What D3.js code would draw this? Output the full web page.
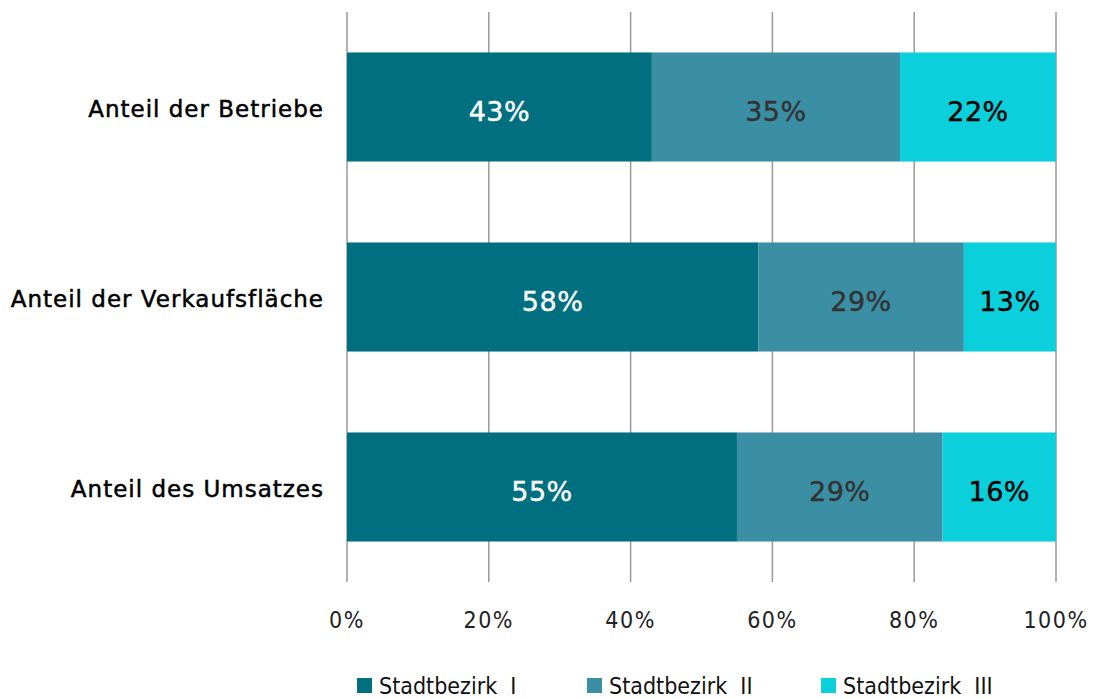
<!DOCTYPE html>
<html><head><meta charset="utf-8">
<script src="https://cdn.jsdelivr.net/npm/d3@7"></script>
<style>body{margin:0;background:#fff}</style>
</head><body>
<svg id="c" width="1099" height="699"></svg>
<script>
const categories = ["Anteil der Betriebe", "Anteil der Verkaufsfläche", "Anteil des Umsatzes"];
const seriesNames = ["Stadtbezirk  I", "Stadtbezirk  II", "Stadtbezirk  III"];
const stadtbezirkI = [43, 58, 55];
const stadtbezirkII = [35, 29, 29];
const stadtbezirkIII = [22, 13, 16];
const tickValues = [0, 20, 40, 60, 80, 100];
const colors = ["#006F80", "#3A8FA5", "#0BCFDA"];
const labelColors = ["#ffffff", "#333333", "#000000"];

const svg = d3.select("#c");
const m = {left: 347, right: 1056, top: 12, bottom: 582};
const x = d3.scaleLinear().domain([0, 100]).range([m.left, m.right]);
const y = d3.scaleBand().domain(categories).range([m.top, m.bottom]).paddingInner(0.426).paddingOuter(0.213);

// gridlines
svg.append("g").selectAll("line").data(tickValues).join("line")
  .attr("x1", d => x(d)).attr("x2", d => x(d))
  .attr("y1", m.top).attr("y2", m.bottom)
  .attr("stroke", "#999").attr("stroke-width", 1.5);

const series = [stadtbezirkI, stadtbezirkII, stadtbezirkIII];
const stackData = categories.map((c, i) => {
  let acc = 0;
  return series.map((s, j) => { const r = {cat: c, j, v: s[i], x0: acc, x1: acc + s[i]}; acc += s[i]; return r; });
}).flat();

svg.append("g").selectAll("rect").data(stackData).join("rect")
  .attr("x", d => x(d.x0)).attr("width", d => x(d.x1) - x(d.x0))
  .attr("y", d => y(d.cat)).attr("height", y.bandwidth())
  .attr("fill", d => colors[d.j]);

svg.append("g").selectAll("text").data(stackData).join("text")
  .attr("x", d => (x(d.x0) + x(d.x1)) / 2)
  .attr("y", d => y(d.cat) + y.bandwidth() / 2 + 14)
  .attr("text-anchor", "middle")
  .attr("font-family", "DejaVu Sans").attr("font-size", 27)
  .attr("letter-spacing", 0.5)
  .attr("fill", d => labelColors[d.j])
  .attr("stroke", d => labelColors[d.j]).attr("stroke-width", 0.4)
  .text(d => d.v + "%");

// category labels
svg.append("g").selectAll("text").data(categories).join("text")
  .attr("x", 324).attr("y", d => y(d) + y.bandwidth() / 2 + 9.5)
  .attr("text-anchor", "end")
  .attr("font-family", "DejaVu Sans").attr("font-size", 23)
  .attr("letter-spacing", 1)
  .attr("fill", "#000").attr("stroke", "#000").attr("stroke-width", 0.5)
  .text(d => d);

// x axis tick labels
svg.append("g").selectAll("text").data(tickValues).join("text")
  .attr("x", d => x(d)).attr("y", 628)
  .attr("text-anchor", "middle")
  .attr("font-family", "DejaVu Sans Condensed").attr("font-size", 23)
  .attr("letter-spacing", 1.5)
  .attr("fill", "#222")
  .text(d => d + "%");

// legend
const legX = [357, 587, 821];
const lg = svg.append("g").selectAll("g").data(seriesNames).join("g")
  .attr("transform", (d, i) => `translate(${legX[i]},0)`);
lg.append("rect").attr("x", 0).attr("y", 678).attr("width", 15).attr("height", 15)
  .attr("fill", (d, i) => colors[i]);
lg.append("text").attr("x", 22).attr("y", 694)
  .attr("font-family", "DejaVu Sans Condensed").attr("font-size", 23)
  .attr("fill", "#111").attr("xml:space", "preserve").style("white-space", "pre")
  .text(d => d);
</script>
</body></html>
